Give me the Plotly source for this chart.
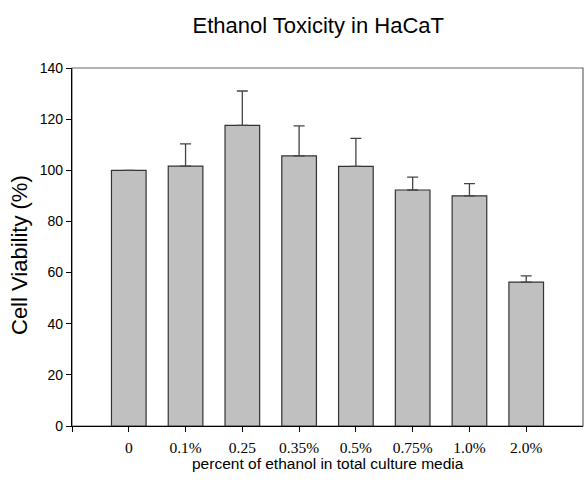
import plotly.graph_objects as go

# Ethanol concentration groups and measured viability (mean, upper SD)
categories = ["0", "0.1%", "0.25", "0.35%", "0.5%", "0.75%", "1.0%", "2.0%"]
positions = [1, 2, 3, 4, 5, 6, 7, 8]
viability = [100.0, 101.6, 117.6, 105.6, 101.5, 92.3, 90.0, 56.3]
error_up = [0.0, 8.7, 13.4, 11.8, 11.0, 5.0, 4.8, 2.4]

y_ticks = [0, 20, 40, 60, 80, 100, 120, 140]

SANS = "Liberation Sans, Arial"
SERIF = "Liberation Serif, Times New Roman"

fig = go.Figure()
fig.add_trace(go.Bar(
    x=positions,
    y=viability,
    width=0.61,
    marker=dict(color="#c0c0c0", line=dict(color="#333333", width=1.2)),
    error_y=dict(type="data", array=error_up, arrayminus=[0] * len(error_up),
                 symmetric=False, color="#444444", thickness=1.3, width=5.5),
    showlegend=False,
))

# gray frame on top/right; black axis lines drawn on left/bottom
fig.add_shape(type="rect", xref="paper", yref="paper", x0=0, y0=0, x1=1, y1=1,
              line=dict(color="#666666", width=1.2), layer="below")

# axis titles
fig.add_annotation(text="percent of ethanol in total culture media",
                   xref="paper", yref="paper", x=0.5, y=0, yshift=-37,
                   xanchor="center", yanchor="middle", showarrow=False,
                   font=dict(family=SANS, size=15.5, color="black"))
fig.add_annotation(text="Cell Viability (%)", textangle=-90,
                   xref="paper", yref="paper", x=0, y=0.5, xshift=-53, yshift=-8,
                   xanchor="center", yanchor="middle", showarrow=False,
                   font=dict(family=SANS, size=22, color="black"))

fig.update_layout(
    width=584, height=481,
    margin=dict(l=72, r=1, t=68, b=55),
    paper_bgcolor="white", plot_bgcolor="white",
    title=dict(text="Ethanol Toxicity in HaCaT", x=0.545, xanchor="center",
               y=0.947, yanchor="middle",
               font=dict(family=SANS, size=22, color="black")),
    font=dict(family=SANS, color="black"),
)

fig.update_xaxes(
    range=[0, 9], showgrid=False, zeroline=False,
    showline=True, linecolor="black", linewidth=1.2,
    ticks="outside", ticklen=5, tickcolor="black", tickwidth=1,
    tickvals=[0] + positions, ticktext=[""] + categories,
    ticklabelstandoff=2,
    tickfont=dict(family=SERIF, size=15.5, color="black"),
)

fig.update_yaxes(
    range=[0, 140], showgrid=False, zeroline=False,
    showline=True, linecolor="black", linewidth=1.2,
    ticks="outside", ticklen=5, tickcolor="black", tickwidth=1,
    tickvals=y_ticks,
    tickfont=dict(family=SANS, size=14, color="black"),
)

fig.write_html("out.html")
